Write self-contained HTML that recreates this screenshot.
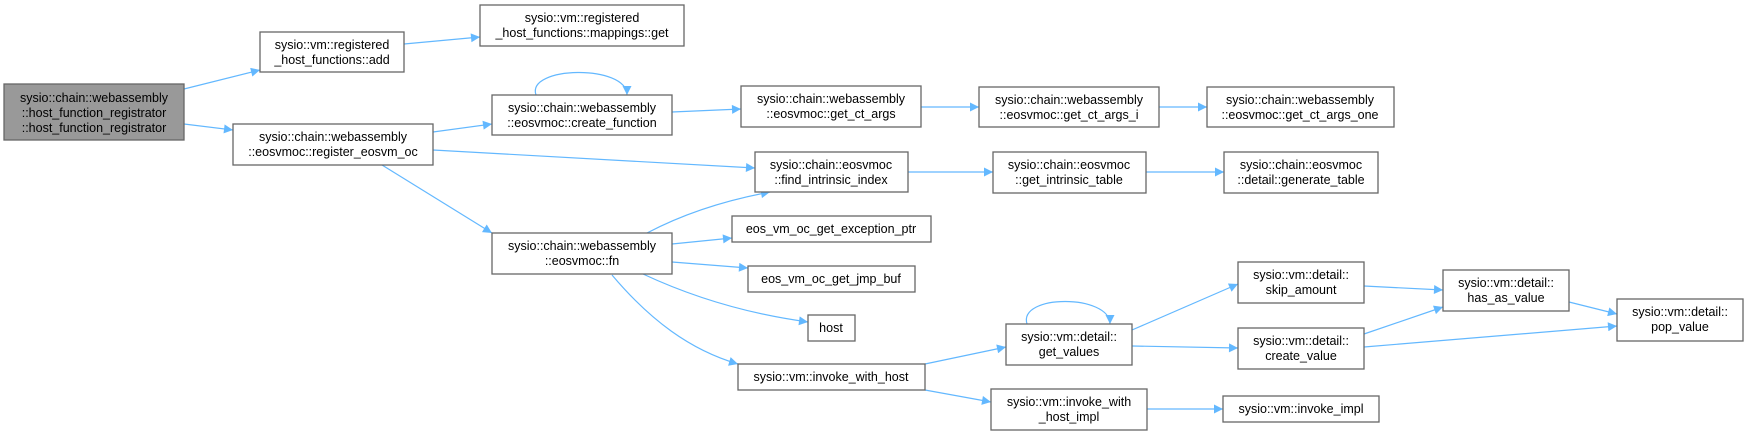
<!DOCTYPE html>
<html><head><meta charset="utf-8"><style>
html,body{margin:0;padding:0;background:#fff;}
svg{display:block;}
text{font-family:"Liberation Sans",Arial,sans-serif;font-size:12.5px;fill:#000;text-anchor:middle;}
.n{fill:#fff;stroke:#666;stroke-width:1.3;}
.e{fill:none;stroke:#63b8ff;stroke-width:1.2;}
</style></head><body>
<svg width="1744" height="435" viewBox="0 0 1744 435" xmlns="http://www.w3.org/2000/svg">
<defs><marker id="a" viewBox="0 0 10 10" refX="10" refY="5" markerWidth="11" markerHeight="9" markerUnits="userSpaceOnUse" orient="auto"><path d="M0,0 L10,5 L0,10 z" fill="#63b8ff"/></marker></defs>
<g class="e" marker-end="url(#a)">
<path d="M184,89 L260,70"/>
<path d="M404,44 L480,37"/>
<path d="M184,124 L233,130"/>
<path d="M433,132 L492,124"/>
<path d="M536,95 C526,66 627,64 627,95"/>
<path d="M672,112 L741,109"/>
<path d="M921,107 L979,107"/>
<path d="M1159,107 L1207,107"/>
<path d="M433,150 L755,168"/>
<path d="M382,165 L492,233"/>
<path d="M647,233 Q700,205 770,192"/>
<path d="M908,172 L993,172"/>
<path d="M1146,172 L1224,172"/>
<path d="M672,244 L732,238"/>
<path d="M672,262 L748,268"/>
<path d="M643,274 Q720,310 808,322"/>
<path d="M612,275 C650,320 690,350 738,364"/>
<path d="M925,364 L1006,347"/>
<path d="M925,390 L991,402"/>
<path d="M1147,409 L1223,409"/>
<path d="M1027,324 C1018,294 1110,294 1110,324"/>
<path d="M1132,330 L1238,284"/>
<path d="M1132,346 L1238,348"/>
<path d="M1364,286 L1443,290"/>
<path d="M1364,334 L1443,307"/>
<path d="M1364,347 L1617,326"/>
<path d="M1569,302 L1617,314"/>
</g>
<rect x="4" y="84" width="180" height="56" fill="#999" stroke="#666" stroke-width="1.3"/>
<text x="94" y="102">sysio::chain::webassembly</text><text x="94" y="117">::host_function_registrator</text><text x="94" y="132">::host_function_registrator</text>
<rect class="n" x="260" y="32" width="144" height="40"/><text x="332" y="49">sysio::vm::registered</text><text x="332" y="64">_host_functions::add</text>
<rect class="n" x="480" y="5" width="204" height="41"/><text x="582" y="22">sysio::vm::registered</text><text x="582" y="37">_host_functions::mappings::get</text>
<rect class="n" x="233" y="124" width="200" height="41"/><text x="333" y="141">sysio::chain::webassembly</text><text x="333" y="156">::eosvmoc::register_eosvm_oc</text>
<rect class="n" x="492" y="95" width="180" height="40"/><text x="582" y="112">sysio::chain::webassembly</text><text x="582" y="127">::eosvmoc::create_function</text>
<rect class="n" x="741" y="86" width="180" height="41"/><text x="831" y="103">sysio::chain::webassembly</text><text x="831" y="118">::eosvmoc::get_ct_args</text>
<rect class="n" x="979" y="87" width="180" height="40"/><text x="1069" y="104">sysio::chain::webassembly</text><text x="1069" y="119">::eosvmoc::get_ct_args_i</text>
<rect class="n" x="1207" y="87" width="187" height="40"/><text x="1300" y="104">sysio::chain::webassembly</text><text x="1300" y="119">::eosvmoc::get_ct_args_one</text>
<rect class="n" x="755" y="152" width="153" height="40"/><text x="831" y="169">sysio::chain::eosvmoc</text><text x="831" y="184">::find_intrinsic_index</text>
<rect class="n" x="993" y="152" width="153" height="41"/><text x="1069" y="169">sysio::chain::eosvmoc</text><text x="1069" y="184">::get_intrinsic_table</text>
<rect class="n" x="1224" y="152" width="154" height="41"/><text x="1301" y="169">sysio::chain::eosvmoc</text><text x="1301" y="184">::detail::generate_table</text>
<rect class="n" x="492" y="233" width="180" height="41"/><text x="582" y="250">sysio::chain::webassembly</text><text x="582" y="265">::eosvmoc::fn</text>
<rect class="n" x="732" y="216" width="199" height="26"/><text x="831" y="233">eos_vm_oc_get_exception_ptr</text>
<rect class="n" x="748" y="266" width="167" height="26"/><text x="831" y="283">eos_vm_oc_get_jmp_buf</text>
<rect class="n" x="808" y="315" width="47" height="26"/><text x="831" y="332">host</text>
<rect class="n" x="738" y="364" width="187" height="26"/><text x="831" y="381">sysio::vm::invoke_with_host</text>
<rect class="n" x="1006" y="324" width="126" height="41"/><text x="1069" y="341">sysio::vm::detail::</text><text x="1069" y="356">get_values</text>
<rect class="n" x="991" y="389" width="156" height="41"/><text x="1069" y="406">sysio::vm::invoke_with</text><text x="1069" y="421">_host_impl</text>
<rect class="n" x="1223" y="396" width="156" height="26"/><text x="1301" y="413">sysio::vm::invoke_impl</text>
<rect class="n" x="1238" y="262" width="126" height="41"/><text x="1301" y="279">sysio::vm::detail::</text><text x="1301" y="294">skip_amount</text>
<rect class="n" x="1238" y="328" width="126" height="41"/><text x="1301" y="345">sysio::vm::detail::</text><text x="1301" y="360">create_value</text>
<rect class="n" x="1443" y="270" width="126" height="41"/><text x="1506" y="287">sysio::vm::detail::</text><text x="1506" y="302">has_as_value</text>
<rect class="n" x="1617" y="299" width="126" height="42"/><text x="1680" y="316">sysio::vm::detail::</text><text x="1680" y="331">pop_value</text>
</svg>
</body></html>
